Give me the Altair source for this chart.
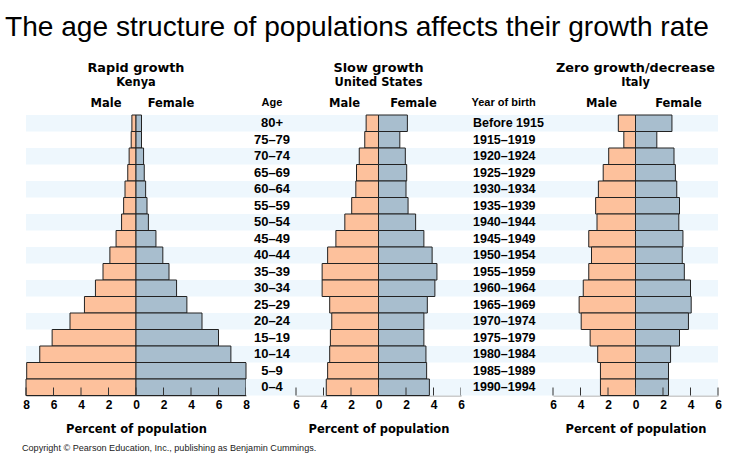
import altair as alt
import pandas as pd

# ---------------- data ----------------
ages = ["80+", "75–79", "70–74", "65–69", "60–64", "55–59", "50–54", "45–49",
        "40–44", "35–39", "30–34", "25–29", "20–24", "15–19", "10–14", "5–9", "0–4"]
years = ["Before 1915", "1915–1919", "1920–1924", "1925–1929", "1930–1934",
         "1935–1939", "1940–1944", "1945–1949", "1950–1954", "1955–1959",
         "1960–1964", "1965–1969", "1970–1974", "1975–1979", "1980–1984",
         "1985–1989", "1990–1994"]

kenya_male = [0.3, 0.35, 0.5, 0.6, 0.8, 0.9, 1.05, 1.45, 1.9, 2.4, 2.95, 3.75, 4.8, 6.1, 7.0, 7.95, 8.0]
kenya_female = [0.4, 0.4, 0.55, 0.6, 0.7, 0.8, 0.9, 1.45, 1.95, 2.4, 2.95, 3.7, 4.8, 6.0, 6.9, 8.0, 8.0]
us_male = [0.9, 1.0, 1.4, 1.6, 1.65, 1.95, 2.45, 3.1, 3.7, 4.1, 4.1, 3.55, 3.4, 3.5, 3.55, 3.7, 3.8]
us_female = [2.1, 1.55, 1.95, 2.05, 2.0, 2.15, 2.7, 3.3, 3.9, 4.25, 4.1, 3.55, 3.3, 3.3, 3.45, 3.5, 3.7]
italy_male = [1.25, 0.85, 1.95, 2.35, 2.7, 2.9, 2.8, 3.4, 3.2, 3.4, 3.8, 4.1, 3.95, 3.3, 2.75, 2.55, 2.55]
italy_female = [2.65, 1.55, 2.8, 2.9, 3.0, 3.2, 3.15, 3.45, 3.4, 3.55, 4.0, 4.05, 3.85, 3.2, 2.55, 2.4, 2.4]

panel_titles = ["Rapid growth", "Slow growth", "Zero growth/decrease"]
panel_countries = ["Kenya", "United States", "Italy"]
main_title = "The age structure of populations affects their growth rate"
copyright_text = "Copyright © Pearson Education, Inc., publishing as Benjamin Cummings."
axis_title = "Percent of population"

# ---------------- style ----------------
MALE = "#FDC19C"
FEMALE = "#A8BECE"
STRIPE = "#EEF7FD"
BOLD = "DejaVu Sans"
ARIAL = "Liberation Sans"
H = 280.5

df = pd.DataFrame({
    "age": ages, "year": years, "idx": list(range(len(ages))),
    "km": kenya_male, "kf": kenya_female,
    "um": us_male, "uf": us_female,
    "im": italy_male, "if_": italy_female,
})

yenc = alt.Y("age:N", sort=ages, scale=alt.Scale(paddingInner=0, paddingOuter=0), axis=None)


def one(text):
    return alt.Chart(pd.DataFrame({"t": [text]}))


def label(text, x, y, size, font=BOLD, weight="bold", align="center", color="black"):
    return one(text).mark_text(font=font, fontSize=size, fontWeight=weight, align=align,
                               baseline="alphabetic", color=color).encode(
        text="t:N", x=alt.value(x), y=alt.value(y))


def stripes(W):
    return alt.Chart(df).transform_filter("datum.idx % 2 == 0").mark_rect(color=STRIPE).encode(
        y=yenc, x=alt.value(0), x2=alt.value(W))


def pyramid(mcol, fcol, lim, W, title, country, mdx, fdx, extra=None):
    xscale = alt.Scale(domain=[-lim, lim], nice=False, zero=False)
    xaxis = alt.Axis(values=list(range(-lim, lim + 1, 2)), labelExpr="abs(datum.value)",
                     ticks=False, tickSize=0, grid=False, domainColor="#9a9a9a", domainWidth=1,
                     labelFont=ARIAL, labelFontWeight="bold", labelFontSize=12, labelColor="black",
                     labelPadding=4, title=axis_title, titleFont=BOLD, titleFontWeight="bold",
                     titleFontSize=11.5, titleColor="black", titlePadding=13,
                     labelOverlap=False, labelFlush=False)
    base = alt.Chart(df)
    male = base.transform_calculate(neg=f"-datum.{mcol}").mark_bar(
        color=MALE, stroke="#222", strokeWidth=1).encode(
        x=alt.X("neg:Q", scale=xscale, axis=xaxis), x2=alt.datum(0), y=yenc)
    female = base.mark_bar(color=FEMALE, stroke="#222", strokeWidth=1).encode(
        x=alt.X(f"{fcol}:Q", scale=xscale, axis=xaxis), x2=alt.datum(0), y=yenc)
    ticks = alt.Chart(pd.DataFrame({"tv": list(range(-lim, lim + 1, 2))})).mark_rule(
        color="#333", strokeWidth=1).encode(
        x=alt.X("tv:Q", scale=xscale, axis=xaxis), y=alt.value(H - 8), y2=alt.value(H))
    layers = [stripes(W), male, female, ticks,
              label(title, W / 2, -43.5, 12.8),
              label(country, W / 2, -29.5, 11.4),
              label("Male", W / 2 + mdx, -8.5, 11.5),
              label("Female", W / 2 + fdx, -8.5, 11.5)]
    if extra:
        layers += extra
    return alt.layer(*layers).properties(width=W, height=H)


anchor = one("a").mark_rule(color="white", strokeWidth=0).encode(
    x=alt.value(-26), y=alt.value(-115), y2=alt.value(-114))

kenya = pyramid("km", "kf", 8, 220, panel_titles[0], panel_countries[0], -30, 35, extra=[
    anchor,
    label(main_title, -21, -79, 28.1, font=ARIAL, weight="normal", align="left"),
    label(copyright_text, -4, 335.5, 9.1, font=ARIAL, weight="normal", align="left", color="#222"),
])
us = pyramid("um", "uf", 6, 165, panel_titles[1], panel_countries[1], -34, 35)
italy = pyramid("im", "if_", 6, 165, panel_titles[2], panel_countries[2], -34, 43)

age_col = alt.layer(
    stripes(50),
    alt.Chart(df).mark_text(font=ARIAL, fontWeight="bold", fontSize=13, align="center",
                            baseline="middle", color="black").encode(
        y=yenc, text="age:N", x=alt.value(26)),
    label("Age", 26, -9, 11, font=ARIAL),
).properties(width=50, height=H)

year_col = alt.layer(
    stripes(92),
    alt.Chart(df).mark_text(font=ARIAL, fontWeight="bold", fontSize=12.5, align="left",
                            baseline="middle", color="black").encode(
        y=yenc, text="year:N", x=alt.value(12)),
    label("Year of birth", 10.5, -9, 11, font=ARIAL, align="left"),
).properties(width=92, height=H)

chart = alt.hconcat(kenya, age_col, us, year_col, italy, spacing=0, bounds="flush").properties(
    padding=0, background="white"
).configure_view(stroke=None)

chart.save("out.html", embed_options={"renderer": "svg", "actions": False})
